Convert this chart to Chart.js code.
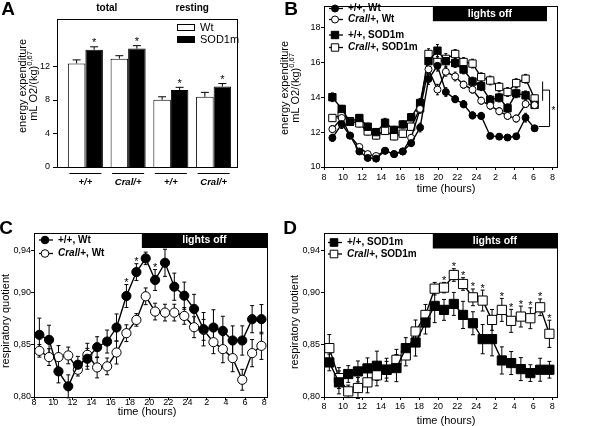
<!DOCTYPE html>
<html>
<head>
<meta charset="utf-8">
<script src="https://cdn.jsdelivr.net/npm/chart.js@4.4.1/dist/chart.umd.min.js"></script>
<style>
  body { margin: 0; background: #fff; }
  #wrap { position: relative; width: 600px; height: 426px; overflow: hidden; }
  #wrap canvas { position: absolute; left: 0; top: 0; }
</style>
</head>
<body>
<div id="wrap">
  <canvas id="chartA" width="600" height="426"></canvas>
  <canvas id="chartB" width="600" height="426"></canvas>
  <canvas id="chartC" width="600" height="426"></canvas>
  <canvas id="chartD" width="600" height="426"></canvas>
</div>
<script>
// ---- panel A: energy expenditure, bars
const groupsA = ['+/+', 'Cral/+', '+/+', 'Cral/+']
const wtA = [12.35, 12.92, 8.01, 8.37]
const wtErrA = [0.42, 0.35, 0.36, 0.53]
const sodA = [13.98, 14.12, 9.18, 9.6]
const sodErrA = [0.35, 0.35, 0.32, 0.35]
const sodStarA = [1, 1, 1, 1]
const yTicksA = [0, 4, 8, 12]

// ---- panel B: energy expenditure over the day
const hoursB = [8.88, 9.86, 10.73, 11.71, 12.59, 13.47, 14.41, 15.36, 16.27, 17.15, 18.09, 18.97,
  19.91, 20.79, 21.77, 22.65, 23.59, 24.5, 25.45, 26.39, 27.27, 28.18, 29.16, 30.11]
const wtB = [11.67, 12.46, 11.8, 10.89, 10.52, 10.48, 10.93, 10.74, 10.89, 11.37, 12.26, 15.04,
  15.8, 14.3, 13.89, 13.6, 12.96, 12.93, 11.78, 11.74, 11.69, 11.76, 12.83, 12.22]
const cralWtB = [12.17, 12.81, 11.8, 11.15, 10.74, 10.63, 10.93, 10.74, 10.89, 11.67, 13.33, 15.6,
  14.44, 15.46, 15.19, 14.72, 14.44, 13.8, 13.52, 13.2, 12.93, 12.78, 13.61, 13.55]
const sodB = [14.0, 13.33, 12.59, 12.81, 12.31, 12.0, 12.54, 12.13, 12.44, 12.85, 13.67, 16.07,
  16.67, 16.07, 15.96, 15.59, 14.9, 14.63, 13.85, 13.98, 13.37, 14.22, 14.11, 13.56]
const cralSodB = [12.81, 12.96, 12.63, 12.5, 12.04, 11.81, 12.07, 11.76, 11.91, 12.31, 13.37, 16.48,
  16.02, 16.2, 16.48, 16.02, 15.93, 15.15, 14.96, 14.59, 14.3, 14.81, 15.06, 13.93]
const wtErrB = [0.2, 0.25, 0.15, 0.15, 0.15, 0.15, 0.15, 0.15, 0.15, 0.2, 0.25, 0.3,
  0.3, 0.25, 0.2, 0.2, 0.2, 0.2, 0.15, 0.15, 0.15, 0.15, 0.25, 0.15]
const cralWtErrB = [0.2, 0.2, 0.15, 0.15, 0.15, 0.15, 0.15, 0.15, 0.15, 0.2, 0.25, 0.3,
  0.3, 0.25, 0.25, 0.2, 0.2, 0.2, 0.2, 0.2, 0.2, 0.2, 0.2, 0.2]
const sodErrB = [0.25, 0.2, 0.2, 0.2, 0.2, 0.2, 0.25, 0.2, 0.2, 0.2, 0.25, 0.3,
  0.35, 0.3, 0.25, 0.25, 0.25, 0.25, 0.25, 0.25, 0.25, 0.25, 0.25, 0.2]
const cralSodErrB = [0.2, 0.2, 0.2, 0.2, 0.2, 0.2, 0.2, 0.2, 0.2, 0.2, 0.25, 0.3,
  0.3, 0.3, 0.25, 0.25, 0.25, 0.25, 0.25, 0.25, 0.25, 0.25, 0.25, 0.2]
const yTicksB = [10, 12, 14, 16, 18]
const lightsB = [19.43, 31.41]

// ---- panels C and D: respiratory quotient
const hoursCD = [8.56, 9.57, 10.55, 11.57, 12.57, 13.56, 14.58, 15.62, 16.6, 17.63, 18.67, 19.64,
  20.62, 21.65, 22.62, 23.66, 24.68, 25.67, 26.7, 27.68, 28.7, 29.7, 30.73, 31.7]
const wtC = [0.8595, 0.8547, 0.8245, 0.8102, 0.8309, 0.8366, 0.8477, 0.8531, 0.8665, 0.8967, 0.9196, 0.9327,
  0.912, 0.9285, 0.9056, 0.897, 0.8843, 0.8649, 0.8665, 0.8633, 0.8541, 0.8541, 0.8745, 0.8745]
const wtErrC = [0.016, 0.014, 0.011, 0.011, 0.008, 0.010, 0.010, 0.011, 0.013, 0.011, 0.008, 0.006,
  0.010, 0.013, 0.013, 0.013, 0.014, 0.016, 0.017, 0.014, 0.014, 0.014, 0.013, 0.014]
const starC = [0, 0, 0, 0, 0, 0, 0, 0, 0, 1, 1, 0, 1, 1, 0, 0, 0, 0, 0, 0, 0, 0, 0, 0]
const cralWtC = [0.8442, 0.8382, 0.8382, 0.8398, 0.8261, 0.8404, 0.8283, 0.8293, 0.8426, 0.8611, 0.8738, 0.8964,
  0.8818, 0.8808, 0.8808, 0.8776, 0.8668, 0.8643, 0.8525, 0.8458, 0.8372, 0.8165, 0.842, 0.849]
const cralWtErrC = [0.006, 0.008, 0.011, 0.008, 0.006, 0.011, 0.010, 0.008, 0.011, 0.008, 0.006, 0.008,
  0.008, 0.008, 0.008, 0.008, 0.010, 0.010, 0.011, 0.013, 0.013, 0.010, 0.013, 0.013]
const sodD = [0.8331, 0.814, 0.822, 0.8245, 0.8274, 0.8299, 0.8261, 0.8277, 0.8468, 0.8522, 0.8713, 0.8872,
  0.8834, 0.8891, 0.8786, 0.8706, 0.8554, 0.8554, 0.835, 0.8325, 0.8267, 0.8229, 0.8261, 0.8261]
const sodErrD = [0.008, 0.011, 0.008, 0.010, 0.010, 0.014, 0.011, 0.013, 0.010, 0.013, 0.011, 0.016,
  0.010, 0.011, 0.013, 0.011, 0.014, 0.016, 0.013, 0.011, 0.011, 0.008, 0.011, 0.008]
const cralSodD = [0.8468, 0.8181, 0.8054, 0.8086, 0.814, 0.8207, 0.8261, 0.8356, 0.8398, 0.8627, 0.8786, 0.9037,
  0.9047, 0.9168, 0.9082, 0.8954, 0.8923, 0.8738, 0.8834, 0.8729, 0.877, 0.8754, 0.8859, 0.8605]
const cralSodErrD = [0.013, 0.010, 0.006, 0.010, 0.010, 0.010, 0.008, 0.010, 0.010, 0.011, 0.010, 0.006,
  0.005, 0.006, 0.006, 0.008, 0.010, 0.010, 0.011, 0.011, 0.010, 0.010, 0.008, 0.013]
const starD = [0, 0, 0, 0, 0, 0, 0, 0, 0, 0, 0, 0, 1, 1, 1, 1, 1, 0, 1, 1, 1, 1, 1, 1]
const yTicksRQ = [0.80, 0.85, 0.90, 0.94]
const lightsC = [19.24, 32.28]
const lightsD = [19.44, 32.5]

const xTicksHours = [8, 10, 12, 14, 16, 18, 20, 22, 24, 26, 28, 30, 32]

const FONT = 'Arial, "Liberation Sans", Helvetica, sans-serif'
Chart.defaults.font.family = FONT
Chart.defaults.color = '#000'
Chart.defaults.animation = false

const pts = (xs, ys) => xs.map((x, i) => ({x: x, y: ys[i]}))
const valueOf = d => (typeof d === 'object' ? d.y : d)

function drawErrors(chart, dsIndex, errs, cap, upOnly) {
    const ctx = chart.ctx, ys = chart.scales.y
    const data = chart.data.datasets[dsIndex].data
    ctx.save()
    ctx.strokeStyle = '#000'
    ctx.lineWidth = 1
    chart.getDatasetMeta(dsIndex).data.forEach((el, i) => {
        const v = valueOf(data[i])
        const top = ys.getPixelForValue(v + errs[i])
        const bot = upOnly ? el.y : ys.getPixelForValue(v - errs[i])
        ctx.beginPath()
        ctx.moveTo(el.x, bot); ctx.lineTo(el.x, top)
        ctx.moveTo(el.x - cap, top); ctx.lineTo(el.x + cap, top)
        if (!upOnly) { ctx.moveTo(el.x - cap, bot); ctx.lineTo(el.x + cap, bot) }
        ctx.stroke()
    })
    ctx.restore()
}

function drawStars(chart, dsIndex, errs, flags, gap, size) {
    const ctx = chart.ctx, ys = chart.scales.y
    const data = chart.data.datasets[dsIndex].data
    const meta = chart.getDatasetMeta(dsIndex)
    ctx.save()
    ctx.fillStyle = '#000'
    ctx.font = size + 'px ' + FONT
    ctx.textAlign = 'center'
    ctx.textBaseline = 'alphabetic'
    flags.forEach((f, i) => {
        if (!f) return
        const top = ys.getPixelForValue(valueOf(data[i]) + errs[i])
        ctx.fillText('*', meta.data[i].x, top - gap + size * 0.58)
    })
    ctx.restore()
}

function rich(ctx, parts, x, y, center) {
    let w = 0
    parts.forEach(p => { ctx.font = p[1]; w += ctx.measureText(p[0]).width })
    if (center) x -= w / 2
    ctx.textBaseline = 'middle'
    ctx.textAlign = 'left'
    parts.forEach(p => {
        ctx.font = p[1]
        ctx.fillText(p[0], x, y + (p[2] || 0))
        x += ctx.measureText(p[0]).width
    })
}

function vtext(ctx, x, y, parts) {
    ctx.save()
    ctx.translate(x, y)
    ctx.rotate(-Math.PI / 2)
    ctx.fillStyle = '#000'
    rich(ctx, parts, 0, 0, true)
    ctx.restore()
}

function letter(ctx, t, x, y) {
    ctx.save()
    ctx.fillStyle = '#000'
    ctx.font = 'bold 19px ' + FONT
    ctx.textAlign = 'center'
    ctx.textBaseline = 'middle'
    ctx.fillText(t, x, y)
    ctx.restore()
}

function frame(ctx, l, t, r, b) {
    ctx.save()
    ctx.strokeStyle = '#000'
    ctx.lineWidth = 1
    ctx.strokeRect(Math.round(l) + 0.5, Math.round(t) + 0.5, Math.round(r - l), Math.round(b - t))
    ctx.restore()
}

function lightsOff(chart, span, h) {
    const ctx = chart.ctx, a = chart.chartArea, xs = chart.scales.x
    const x0 = xs.getPixelForValue(span[0]), x1 = Math.min(xs.getPixelForValue(span[1]), a.right)
    ctx.save()
    ctx.fillStyle = '#000'
    ctx.fillRect(x0, a.top, x1 - x0, h)
    ctx.fillStyle = '#fff'
    ctx.font = 'bold 10.5px ' + FONT
    ctx.textAlign = 'center'
    ctx.textBaseline = 'middle'
    ctx.fillText('lights off', (x0 + x1) / 2, a.top + h / 2)
    ctx.restore()
}

function marker(ctx, style, x, y, r, filled) {
    ctx.beginPath()
    if (style === 'circle') ctx.arc(x, y, r, 0, 2 * Math.PI)
    else ctx.rect(x - r, y - r, 2 * r, 2 * r)
    ctx.fillStyle = filled ? '#000' : '#fff'
    ctx.fill()
    ctx.lineWidth = 1
    ctx.strokeStyle = '#000'
    ctx.stroke()
}

function legendRow(ctx, x, y, style, filled, r, parts) {
    ctx.save()
    ctx.strokeStyle = '#000'
    ctx.lineWidth = 1.3
    ctx.beginPath(); ctx.moveTo(x, y); ctx.lineTo(x + 14, y); ctx.stroke()
    marker(ctx, style, x + 6, y, r, filled)
    ctx.fillStyle = '#000'
    rich(ctx, parts, x + 19, y)
    ctx.restore()
}

const B10 = 'bold 10px ' + FONT
const BI10 = 'italic bold 10px ' + FONT
const wtLabel = [['+/+, Wt', B10]]
const cralWtLabel = [['Cral', BI10], ['/+, Wt', B10]]
const sodLabel = [['+/+, SOD1m', B10]]
const cralSodLabel = [['Cral', BI10], ['/+, SOD1m', B10]]
const eeTitle1 = [['energy expenditure', '11px ' + FONT]]
const eeTitle2 = [['mL O2/(kg)', '11px ' + FONT], ['0,67', '7.5px ' + FONT, -4]]
const rqTitle = [['respiratory quotient', '11px ' + FONT]]
const timeTitle = [['time (hours)', '11px ' + FONT]]

function timeAxis(max, pad) {
    return {
        type: 'linear', min: 8, max: max,
        afterBuildTicks: s => { s.ticks = xTicksHours.map(v => ({value: v})) },
        ticks: {callback: v => (v > 24 ? v - 24 : v), font: {size: 9}, padding: pad, maxRotation: 0, autoSkip: false},
        grid: {display: true, drawOnChartArea: false, drawTicks: true, tickLength: 3, color: '#000'},
        border: {display: false},
        afterFit: s => { s.height = 20 }
    }
}

function valueAxis(min, max, ticks, pad, fmt) {
    return {
        min: min, max: max,
        afterBuildTicks: s => { s.ticks = ticks.map(v => ({value: v})) },
        ticks: {callback: fmt, font: {size: 9}, padding: pad},
        grid: {display: true, drawOnChartArea: false, drawTicks: true, tickLength: 3, color: '#000'},
        border: {display: false},
        afterFit: s => { s.width = 30 }
    }
}

function lineSet(xs, ys, style, filled, r) {
    return {
        data: pts(xs, ys),
        pointStyle: style,
        pointRadius: r,
        pointBorderWidth: 1,
        borderWidth: 1.4,
        borderColor: '#000',
        backgroundColor: filled ? '#000' : '#fff',
        pointBackgroundColor: filled ? '#000' : '#fff'
    }
}

const common = {
    responsive: false,
    animation: false,
    events: [],
    plugins: {legend: {display: false}, tooltip: {enabled: false}}
}

// ---------- A
new Chart(document.getElementById('chartA'), {
    type: 'bar',
    data: {
        labels: groupsA,
        datasets: [
            {label: 'Wt', data: wtA, backgroundColor: '#fff', borderColor: '#000', borderWidth: 1,
                categoryPercentage: 0.82, barPercentage: 1},
            {label: 'SOD1m', data: sodA, backgroundColor: '#000', borderColor: '#000', borderWidth: 1,
                categoryPercentage: 0.82, barPercentage: 1}
        ]
    },
    options: Object.assign({}, common, {
        layout: {padding: {left: 24, top: 1, right: 365, bottom: 229}},
        scales: {
            x: {
                grid: {display: false, drawTicks: false}, border: {display: false},
                ticks: {font: {size: 9.5, weight: 'bold', style: 'italic'}, padding: 10},
                afterFit: s => { s.height = 30 }
            },
            y: {
                min: 0, max: 17.6,
                afterBuildTicks: s => { s.ticks = yTicksA.map(v => ({value: v})) },
                grid: {display: false, drawTicks: false}, border: {display: false},
                ticks: {font: {size: 9}, padding: 14},
                afterFit: s => { s.width = 40 }
            }
        }
    }),
    plugins: [{
        id: 'decoA',
        afterDatasetsDraw(chart) {
            const ctx = chart.ctx, a = chart.chartArea, xs = chart.scales.x, ys = chart.scales.y
            drawErrors(chart, 0, wtErrA, 4, true)
            drawErrors(chart, 1, sodErrA, 4, true)
            drawStars(chart, 1, sodErrA, sodStarA, 7, 11)
            frame(ctx, 57, a.top, 237, a.bottom)
            ctx.save()
            ctx.strokeStyle = '#000'
            ctx.lineWidth = 1
            ctx.beginPath()
            yTicksA.forEach(v => {
                const y = Math.round(ys.getPixelForValue(v)) + 0.5
                ctx.moveTo(53, y); ctx.lineTo(57, y)
            })
            groupsA.forEach((g, i) => {
                const cx = xs.getPixelForValue(i)
                ctx.moveTo(cx - 16, 173.5); ctx.lineTo(cx + 16, 173.5)
            })
            ctx.stroke()
            ctx.fillStyle = '#000'
            ctx.font = 'bold 10px ' + FONT
            ctx.textAlign = 'center'
            ctx.textBaseline = 'middle'
            ctx.fillText('total', (xs.getPixelForValue(0) + xs.getPixelForValue(1)) / 2, 8.5)
            ctx.fillText('resting', (xs.getPixelForValue(2) + xs.getPixelForValue(3)) / 2, 8.5)
            ctx.fillStyle = '#fff'
            ctx.fillRect(177, 24, 18, 6)
            ctx.strokeRect(177.5, 24.5, 17, 6)
            ctx.fillStyle = '#000'
            ctx.fillRect(177, 36, 18, 7)
            ctx.font = '11px ' + FONT
            ctx.textAlign = 'left'
            ctx.fillText('Wt', 200, 27.5)
            ctx.fillText('SOD1m', 200, 39.5)
            ctx.restore()
            vtext(ctx, 23, 86, eeTitle1)
            vtext(ctx, 34, 86, eeTitle2)
            letter(ctx, 'A', 8, 10)
        }
    }]
})

// ---------- B
new Chart(document.getElementById('chartB'), {
    type: 'line',
    data: {
        datasets: [
            lineSet(hoursB, wtB, 'circle', true, 3.5),
            lineSet(hoursB, cralWtB, 'circle', false, 3.5),
            lineSet(hoursB, sodB, 'rect', true, 5.2),
            lineSet(hoursB, cralSodB, 'rect', false, 5.2)
        ]
    },
    options: Object.assign({}, common, {
        layout: {padding: {left: 294, top: 1, right: 43, bottom: 239}},
        scales: {
            x: timeAxis(32.46, 2),
            y: valueAxis(10, 19.22, yTicksB, 0.5)
        }
    }),
    plugins: [{
        id: 'decoB',
        beforeDatasetsDraw(chart) {
            drawErrors(chart, 0, wtErrB, 1.5, false)
            drawErrors(chart, 1, cralWtErrB, 1.5, false)
            drawErrors(chart, 2, sodErrB, 1.5, false)
            drawErrors(chart, 3, cralSodErrB, 1.5, false)
        },
        afterDatasetsDraw(chart) {
            const ctx = chart.ctx, a = chart.chartArea, xs = chart.scales.x, ys = chart.scales.y
            frame(ctx, a.left, a.top, a.right, a.bottom)
            lightsOff(chart, lightsB, 15)
            legendRow(ctx, 329, 8.5, 'circle', true, 3.5, wtLabel)
            legendRow(ctx, 329, 19.5, 'circle', false, 3.5, cralWtLabel)
            legendRow(ctx, 329, 35, 'rect', true, 3.7, sodLabel)
            legendRow(ctx, 329, 47.5, 'rect', false, 3.7, cralSodLabel)
            // significance bracket at the end of the night
            ctx.save()
            ctx.strokeStyle = '#000'
            ctx.lineWidth = 1
            ctx.beginPath()
            const xa = xs.getPixelForValue(30.95), xb = xs.getPixelForValue(31.68), xc = xs.getPixelForValue(30.53)
            ctx.moveTo(xa, ys.getPixelForValue(14.9)); ctx.lineTo(xa, ys.getPixelForValue(13.8))
            ctx.moveTo(xa, ys.getPixelForValue(14.41)); ctx.lineTo(xb, ys.getPixelForValue(14.41))
            ctx.lineTo(xb, ys.getPixelForValue(12.32)); ctx.lineTo(xc, ys.getPixelForValue(12.32))
            ctx.stroke()
            ctx.fillStyle = '#000'
            ctx.font = '10px ' + FONT
            ctx.textAlign = 'center'
            ctx.textBaseline = 'middle'
            ctx.fillText('*', xb + 4, ys.getPixelForValue(13.3) + 2)
            rich(ctx, timeTitle, 446, 189, true)
            ctx.restore()
            vtext(ctx, 285, 88, eeTitle1)
            vtext(ctx, 296, 88, eeTitle2)
            letter(ctx, 'B', 291, 10)
        }
    }]
})

const rqFmt = v => v.toFixed(2).replace('.', ',')

// ---------- C
new Chart(document.getElementById('chartC'), {
    type: 'line',
    data: {
        datasets: [
            lineSet(hoursCD, wtC, 'circle', true, 4.6),
            lineSet(hoursCD, cralWtC, 'circle', false, 4.6)
        ]
    },
    options: Object.assign({}, common, {
        layout: {padding: {left: 4, top: 233, right: 333, bottom: 9}},
        scales: {
            x: timeAxis(32.28, -3),
            y: valueAxis(0.80, 0.957, yTicksRQ, 0, rqFmt)
        }
    }),
    plugins: [{
        id: 'decoC',
        beforeDatasetsDraw(chart) {
            drawErrors(chart, 0, wtErrC, 2, false)
            drawErrors(chart, 1, cralWtErrC, 2, false)
        },
        afterDatasetsDraw(chart) {
            const ctx = chart.ctx, a = chart.chartArea
            drawStars(chart, 0, wtErrC, starC, 5, 11)
            frame(ctx, a.left, a.top, a.right, a.bottom)
            lightsOff(chart, lightsC, 15)
            legendRow(ctx, 39, 240, 'circle', true, 3.8, wtLabel)
            legendRow(ctx, 39, 253.5, 'circle', false, 3.8, cralWtLabel)
            ctx.save()
            ctx.fillStyle = '#000'
            rich(ctx, timeTitle, 147, 412, true)
            ctx.restore()
            vtext(ctx, 6, 321, rqTitle)
            letter(ctx, 'C', 6, 229)
        }
    }]
})

// ---------- D
new Chart(document.getElementById('chartD'), {
    type: 'line',
    data: {
        datasets: [
            lineSet(hoursCD, sodD, 'rect', true, 6.5),
            lineSet(hoursCD, cralSodD, 'rect', false, 6.5)
        ]
    },
    options: Object.assign({}, common, {
        layout: {padding: {left: 294, top: 233, right: 43, bottom: 9}},
        scales: {
            x: timeAxis(32.5, 1.6),
            y: valueAxis(0.80, 0.957, yTicksRQ, 1, rqFmt)
        }
    }),
    plugins: [{
        id: 'decoD',
        beforeDatasetsDraw(chart) {
            drawErrors(chart, 0, sodErrD, 2, false)
            drawErrors(chart, 1, cralSodErrD, 2, false)
        },
        afterDatasetsDraw(chart) {
            const ctx = chart.ctx, a = chart.chartArea
            drawStars(chart, 1, cralSodErrD, starD, 5, 11)
            frame(ctx, a.left, a.top, a.right, a.bottom)
            lightsOff(chart, lightsD, 15.5)
            legendRow(ctx, 328, 242.5, 'rect', true, 3.8, sodLabel)
            legendRow(ctx, 328, 254, 'rect', false, 3.8, cralSodLabel)
            ctx.save()
            ctx.fillStyle = '#000'
            rich(ctx, timeTitle, 446, 421, true)
            ctx.restore()
            vtext(ctx, 295, 322, rqTitle)
            letter(ctx, 'D', 290, 229)
        }
    }]
})
</script>
</body>
</html>
